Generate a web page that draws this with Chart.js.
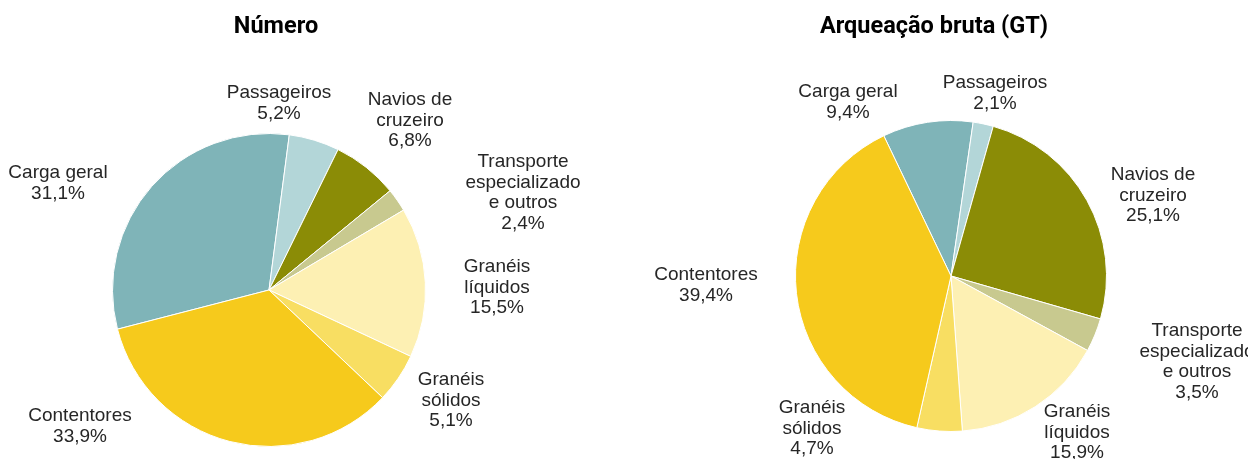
<!DOCTYPE html>
<html lang="pt">
<head>
<meta charset="utf-8">
<title>Navios por tipo</title>
<script src="https://cdn.jsdelivr.net/npm/chart.js@4.4.1/dist/chart.umd.min.js"></script>
<style>
    html, body { margin: 0; padding: 0; background: #fff; }
    .wrap { position: relative; width: 1248px; height: 459px; }
    .box { position: absolute; top: 0; width: 624px; height: 459px; }
    #boxLeft { left: 0; }
    #boxRight { left: 624px; }
</style>
</head>
<body>
<div class="wrap">
    <div class="box" id="boxLeft"><canvas id="numeroChart"></canvas></div>
    <div class="box" id="boxRight"><canvas id="arqueacaoChart"></canvas></div>
</div>
<script>
// dados
const categories = ['Carga geral', 'Passageiros', 'Navios de cruzeiro', 'Transporte especializado e outros',
    'Granéis líquidos', 'Granéis sólidos', 'Contentores'];
const labelLines = [
    ['Carga geral'], ['Passageiros'], ['Navios de', 'cruzeiro'], ['Transporte', 'especializado', 'e outros'],
    ['Granéis', 'líquidos'], ['Granéis', 'sólidos'], ['Contentores']
];
const numeroValues = [31.1, 5.2, 6.8, 2.4, 15.5, 5.1, 33.9];
const arqueacaoValues = [9.4, 2.1, 25.1, 3.5, 15.9, 4.7, 39.4];
const numeroTitle = 'Número';
const arqueacaoTitle = 'Arqueação bruta (GT)';

const sliceColors = ['#7fb4b8', '#b3d6d8', '#8b8c06', '#c8c98f', '#fdf0b3', '#f8de62', '#f6ca1c'];

// posição dos rótulos (deslocamento do centro da tarte, 1.ª linha)
const numeroLabelPos = [[-211, -117], [10, -197], [141, -190], [254, -128], [228, -23], [182, 90], [-189, 126]];
const arqueacaoLabelPos = [[-103, -184], [44, -193], [202, -101], [246, 55], [126, 136], [-139, 132], [-245, -1]];

function fmtPct(v) {
    return v.toFixed(1).replace('.', ',') + '%';
}

// desenha título e rótulos em texto
const pieLabels = {
    id: 'pieLabels',
    afterDatasetsDraw(chart, args, opts) {
        const ctx = chart.ctx;
        const meta = chart.getDatasetMeta(0);
        const values = chart.data.datasets[0].data;
        const cx = meta.data[0].x;
        const cy = meta.data[0].y;
        ctx.save();
        ctx.textAlign = 'center';
        ctx.textBaseline = 'middle';
        ctx.fillStyle = '#000';
        ctx.font = 'bold 23.5px Roboto';
        ctx.fillText(opts.title, opts.titleX, 27);

        ctx.fillStyle = '#262626';
        ctx.font = '19px "Liberation Sans", Arial, sans-serif';
        const lh = 20.5;
        values.forEach((v, i) => {
            const lines = labelLines[i].concat([fmtPct(v)]);
            const x = cx + opts.pos[i][0];
            const y = cy + opts.pos[i][1];
            lines.forEach((t, k) => ctx.fillText(t, x, y + k * lh));
        });
        ctx.restore();
    }
};

function makePie(canvasId, values, rotation, padding, title, titleX, pos) {
    const ctx = document.getElementById(canvasId).getContext('2d');
    return new Chart(ctx, {
        type: 'pie',
        data: {
            labels: categories,
            datasets: [{
                data: values,
                backgroundColor: sliceColors,
                borderColor: '#ffffff',
                borderWidth: 1
            }]
        },
        options: {
            responsive: true,
            maintainAspectRatio: false,
            animation: false,
            rotation: rotation,
            layout: { padding: padding },
            plugins: {
                legend: { display: false },
                tooltip: { enabled: false },
                pieLabels: { title: title, titleX: titleX, pos: pos }
            }
        },
        plugins: [pieLabels]
    });
}

makePie('numeroChart', numeroValues, -104.5,
    { left: 112, right: 198, top: 133, bottom: 12 }, numeroTitle, 276, numeroLabelPos);
makePie('arqueacaoChart', arqueacaoValues, -25.6,
    { left: 171, right: 141, top: 120, bottom: 27 }, arqueacaoTitle, 310, arqueacaoLabelPos);
</script>
</body>
</html>
